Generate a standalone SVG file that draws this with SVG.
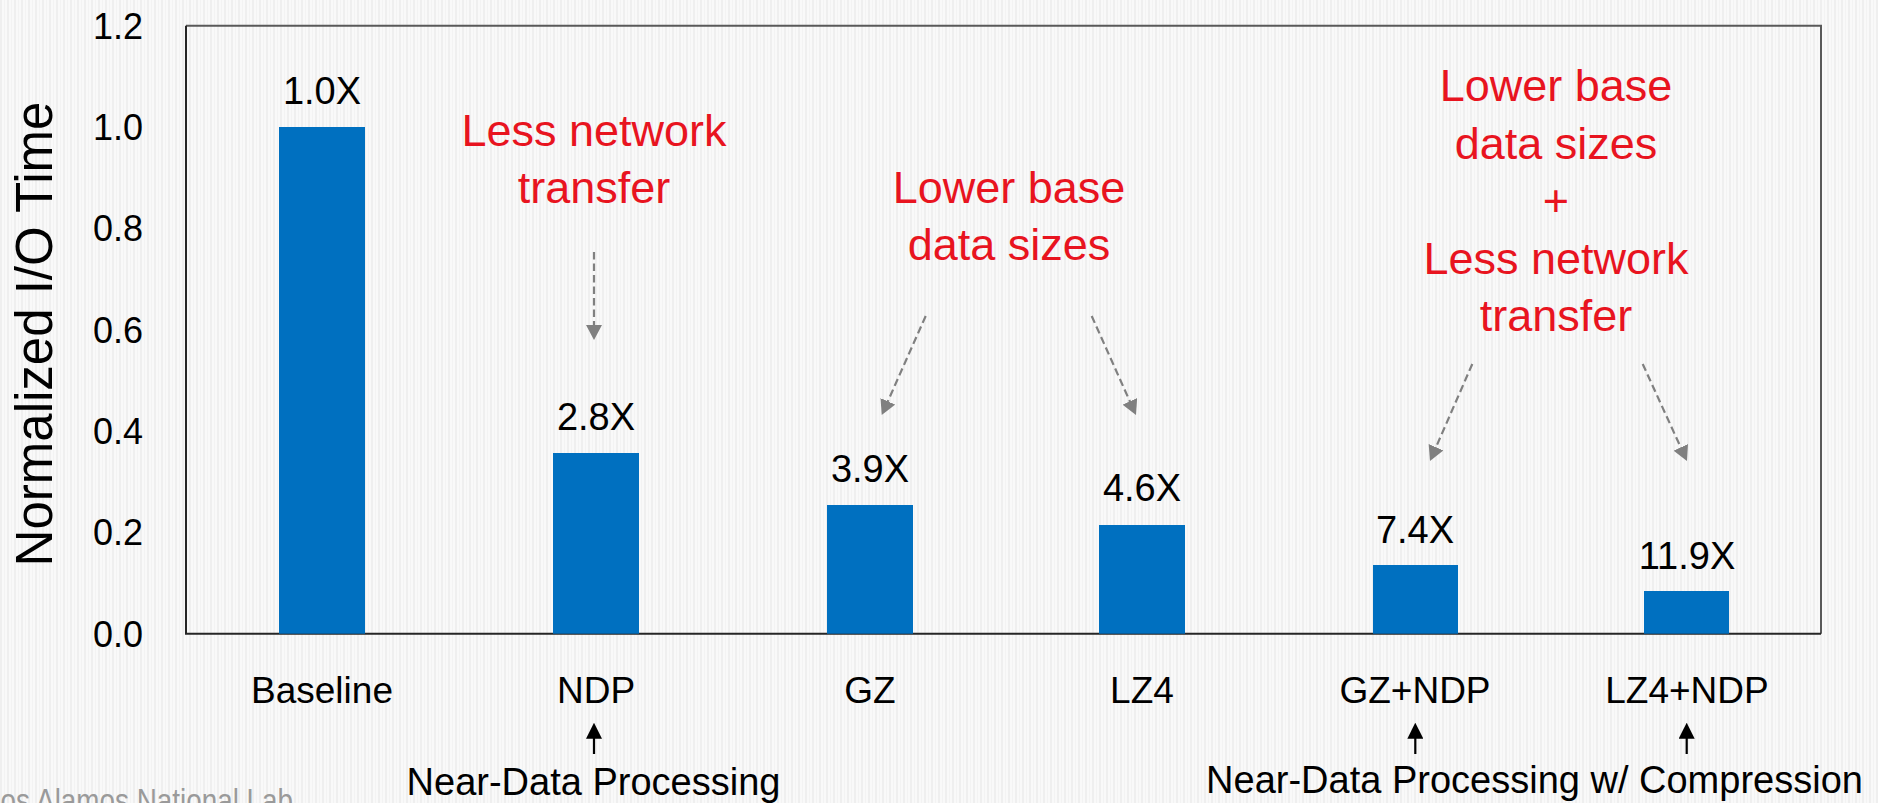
<svg xmlns="http://www.w3.org/2000/svg" width="1878" height="803" viewBox="0 0 1878 803">
<style>
.t{font-family:"Liberation Sans",Arial,sans-serif;fill:#000}
.tick{font-size:36px;text-anchor:end}
.cat{font-size:37px;text-anchor:middle}
.val{font-size:38px;text-anchor:middle}
.note{font-family:"Liberation Sans",Arial,sans-serif;font-size:45px;fill:#E8141F;text-anchor:middle}
.bar{fill:#0070C0}
.dash{stroke:#808080;stroke-width:2.2;stroke-dasharray:7.5 4;fill:none}
.up{stroke:#000;stroke-width:2.2;fill:none}
</style>
<defs>
<pattern id="stripes" x="0" y="0" width="7" height="10" patternUnits="userSpaceOnUse">
<rect width="7" height="10" fill="#f9f9f9"/>
<rect x="0" width="2" height="10" fill="#efefef"/>
<rect x="4" width="1" height="10" fill="#f3f3f3"/>
</pattern>
<marker id="ga" viewBox="0 0 15 16" refX="5" refY="8" markerWidth="15" markerHeight="16" markerUnits="userSpaceOnUse" orient="auto">
<path d="M0,0 L15,8 L0,16 z" fill="#808080"/>
</marker>
<marker id="ba" viewBox="0 0 16 16" refX="6" refY="8" markerWidth="16" markerHeight="16" markerUnits="userSpaceOnUse" orient="auto">
<path d="M0,0 L16,8 L0,16 z" fill="#000"/>
</marker>
</defs>
<rect width="1878" height="803" fill="url(#stripes)"/>
<text class="t" x="-15" y="812" font-size="33" fill="#9a9a9a" style="fill:#9a9a9a" textLength="308" lengthAdjust="spacingAndGlyphs">Los Alamos National Lab</text>
<g id="axes">
<path d="M186,25.7 H1821 V633.7" stroke="#595959" stroke-width="2" fill="none"/>
<path d="M186,25.7 V633.7 H1821" stroke="#262626" stroke-width="2" fill="none"/>
<text class="t tick" x="143" y="38.7">1.2</text>
<text class="t tick" x="143" y="140">1.0</text>
<text class="t tick" x="143" y="241.3">0.8</text>
<text class="t tick" x="143" y="342.7">0.6</text>
<text class="t tick" x="143" y="444">0.4</text>
<text class="t tick" x="143" y="545.4">0.2</text>
<text class="t tick" x="143" y="646.7">0.0</text>
<text class="t" font-size="51" text-anchor="middle" transform="translate(52,334) rotate(-90)">Normalized I/O Time</text>
</g>
<g id="baseline">
<rect class="bar" x="279" y="127" width="86" height="506.7"/>
<text class="t val" x="322" y="104">1.0X</text>
<text class="t cat" x="322" y="703">Baseline</text>
</g>
<g id="ndp">
<rect class="bar" x="553" y="453" width="86" height="180.7"/>
<text class="t val" x="596" y="430">2.8X</text>
<text class="t cat" x="596" y="703">NDP</text>
</g>
<g id="gz">
<rect class="bar" x="827" y="505" width="86" height="128.7"/>
<text class="t val" x="870" y="482">3.9X</text>
<text class="t cat" x="870" y="703">GZ</text>
</g>
<g id="lz4">
<rect class="bar" x="1099" y="525" width="86" height="108.7"/>
<text class="t val" x="1142" y="501">4.6X</text>
<text class="t cat" x="1142" y="703">LZ4</text>
</g>
<g id="gz-ndp">
<rect class="bar" x="1373" y="565" width="85" height="68.7"/>
<text class="t val" x="1415" y="543">7.4X</text>
<text class="t cat" x="1415" y="703">GZ+NDP</text>
</g>
<g id="lz4-ndp">
<rect class="bar" x="1644" y="591" width="85" height="42.7"/>
<text class="t val" x="1687" y="569">11.9X</text>
<text class="t cat" x="1687" y="703">LZ4+NDP</text>
</g>
<g id="note-network">
<text class="note" x="594" y="145.7">Less network</text>
<text class="note" x="594" y="203.3">transfer</text>
</g>
<g id="note-size">
<text class="note" x="1009" y="202.7">Lower base</text>
<text class="note" x="1009" y="260">data sizes</text>
</g>
<g id="note-both">
<text class="note" x="1556" y="101">Lower base</text>
<text class="note" x="1556" y="158.5">data sizes</text>
<text class="note" x="1556" y="216">+</text>
<text class="note" x="1556" y="273.5">Less network</text>
<text class="note" x="1556" y="331">transfer</text>
</g>
<g id="caption-ndp">
<text class="t" font-size="38" text-anchor="middle" x="593.5" y="795">Near-Data Processing</text>
</g>
<g id="caption-ndp-comp">
<text class="t" font-size="38" text-anchor="middle" x="1534.5" y="793">Near-Data Processing w/ Compression</text>
</g>
<g id="connectors">
<line class="dash" x1="594" y1="252" x2="594" y2="330" marker-end="url(#ga)"/>
<line class="dash" x1="925.7" y1="316" x2="885.8" y2="405.9" marker-end="url(#ga)"/>
<line class="dash" x1="1091.7" y1="316" x2="1131.9" y2="405.9" marker-end="url(#ga)"/>
<line class="dash" x1="1472.3" y1="364" x2="1434" y2="451.8" marker-end="url(#ga)"/>
<line class="dash" x1="1642.7" y1="364" x2="1682.8" y2="451.9" marker-end="url(#ga)"/>
<line class="up" x1="594" y1="754" x2="594" y2="732.7" marker-end="url(#ba)"/>
<line class="up" x1="1415.3" y1="754" x2="1415.3" y2="732.7" marker-end="url(#ba)"/>
<line class="up" x1="1686.7" y1="754" x2="1686.7" y2="732.7" marker-end="url(#ba)"/>
</g>
</svg>
